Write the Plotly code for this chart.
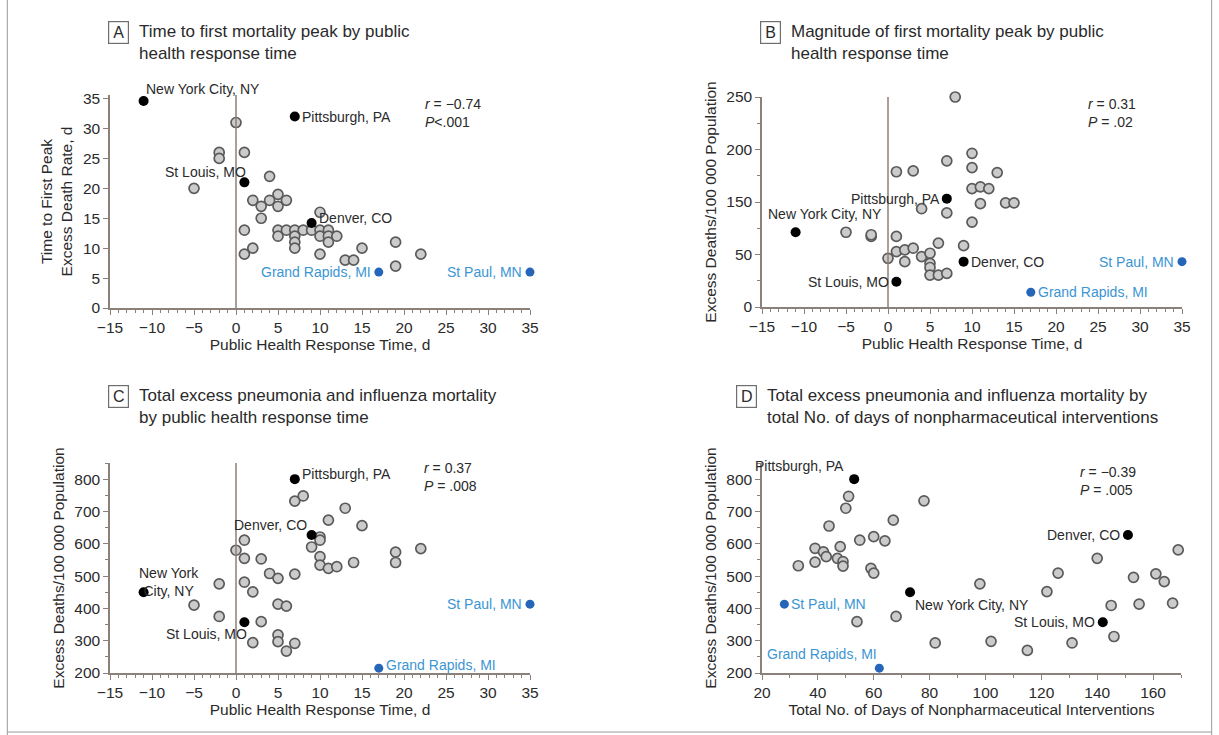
import plotly.graph_objects as go

# --- Data ---
# highlighted cities (same order everywhere)
black_names = ["New York City, NY", "Pittsburgh, PA", "St Louis, MO", "Denver, CO"]
blue_names = ["St Paul, MN", "Grand Rapids, MI"]

black_resp = [-11, 7, 1, 9]
blue_resp = [35, 17]
black_npi = [73, 53, 142, 151]
blue_npi = [28, 62]

black_peak_time = [34.6, 32, 21, 14.2]
blue_peak_time = [6, 6]
black_peak_mag = [89, 129, 30, 54]      # position on the (odd) 0-250 axis
blue_peak_mag = [54, 17.5]
black_total = [450, 800, 357, 627]
blue_total = [413, 215]

# panel A - other cities
a_resp = [0, -2, -2, 1, -5, 4, 2, 3, 4, 5, 5, 6, 3, 1, 5, 6, 5, 1, 2, 7, 8, 9, 10, 10,
          11, 7, 10, 11, 12, 7, 7, 11, 10, 13, 14, 15, 19, 19, 22]
a_peak = [31, 26, 25, 26, 20, 22, 18, 17, 18, 19, 17, 18, 15, 13, 13, 13, 12, 9, 10, 13, 13, 13, 16, 13,
          13, 12, 12, 12, 12, 11, 10, 11, 9, 8, 8, 10, 11, 7, 9]

# panel B - other cities
b_resp = [-5, -2, -2, 1, 1, 3, 4, 7, 7, 0, 1, 2, 3, 2, 4, 5, 6, 5, 5, 5, 6, 7,
          8, 10, 10, 13, 10, 11, 12, 11, 14, 15, 10, 9]
b_mag = [89, 84, 86, 84, 161, 162, 117, 174, 112, 58, 66, 68, 70, 54, 60, 64, 76, 52, 47, 38, 38, 40,
         250, 183, 166, 160, 141, 143, 141, 123, 124, 124, 101, 73]
b_ticktext = ["0", "50", "150", "200", "250"]

# panel C - other cities
c_resp = [-5, -2, -2, 0, 1, 1, 3, 4, 5, 7, 1, 2, 5, 6, 3, 2, 5, 5, 6, 7,
          7, 8, 11, 13, 15, 10, 10, 9, 10, 10, 11, 12, 14, 19, 19, 22]
c_total = [410, 476, 375, 580, 611, 555, 553, 508, 493, 506, 481, 451, 413, 407, 359, 294, 318, 297, 268, 292,
           732, 748, 673, 710, 656, 621, 611, 590, 560, 534, 524, 529, 542, 574, 542, 585]

# panel D - other cities
d_npi = [51, 50, 44, 67, 78, 39, 42, 43, 48, 47, 49, 49, 33, 39, 55, 60, 64, 59, 60, 68, 54, 82,
         169, 140, 126, 153, 161, 164, 98, 122, 145, 155, 167, 102, 115, 131, 146]
d_total = [747, 710, 655, 673, 733, 586, 575, 560, 591, 555, 545, 531, 532, 543, 611, 622, 609, 524, 509, 375, 359, 293,
           581, 555, 509, 496, 507, 483, 476, 452, 409, 413, 416, 298, 270, 293, 313]

stats = ["<i>r</i> = −0.74<br><i>P</i>&lt;.001", "<i>r</i> = 0.31<br><i>P</i> = .02",
         "<i>r</i> = 0.37<br><i>P</i> = .008", "<i>r</i> = −0.39<br><i>P</i> = .005"]
titles = ["Time to first mortality peak by public<br>health response time",
          "Magnitude of first mortality peak by public<br>health response time",
          "Total excess pneumonia and influenza mortality<br>by public health response time",
          "Total excess pneumonia and influenza mortality by<br>total No. of days of nonpharmaceutical interventions"]

# --- Styling ---
W, H = 1219, 735
FONT = "Liberation Sans, Arial, sans-serif"
AXIS = "#8c817a"
TXT = "#2a2a2a"
GRAY_FILL = "#cbcbcb"
GRAY_EDGE = "#5a5a5a"
BLUE = "#2566b8"
BLUE_TXT = "#3b95d3"

def px(x):
    return x / W

def py(y):
    return 1 - y / H

fig = go.Figure()

panels = [
    # xaxis, yaxis, gray x, gray y, black x, black y, blue x, blue y
    ("x", "y", a_resp, a_peak, black_resp, black_peak_time, blue_resp, blue_peak_time),
    ("x2", "y2", b_resp, b_mag, black_resp, black_peak_mag, blue_resp, blue_peak_mag),
    ("x3", "y3", c_resp, c_total, black_resp, black_total, blue_resp, blue_total),
    ("x4", "y4", d_npi, d_total, black_npi, black_total, blue_npi, blue_total),
]

for xa, ya, gx, gy, kx, ky, bx, by in panels:
    fig.add_trace(go.Scatter(x=gx, y=gy, xaxis=xa, yaxis=ya, mode="markers", cliponaxis=False,
                             marker=dict(size=10, color=GRAY_FILL, line=dict(color=GRAY_EDGE, width=1.7)),
                             showlegend=False, hoverinfo="x+y"))
    fig.add_trace(go.Scatter(x=kx, y=ky, xaxis=xa, yaxis=ya, mode="markers", cliponaxis=False,
                             marker=dict(size=10, color="#000000"), text=black_names,
                             showlegend=False, hoverinfo="text"))
    fig.add_trace(go.Scatter(x=bx, y=by, xaxis=xa, yaxis=ya, mode="markers", cliponaxis=False,
                             marker=dict(size=9, color=BLUE), text=blue_names,
                             showlegend=False, hoverinfo="text"))

common_axis = dict(showline=True, linecolor=AXIS, linewidth=1.5, showgrid=False, zeroline=False,
                   automargin=False,
                   ticks="outside", ticklen=5, tickwidth=1.2, tickcolor=AXIS,
                   tickfont=dict(family=FONT, size=15.5, color=TXT),
                   title_font=dict(family=FONT, size=15.5, color=TXT))

resp_axis = dict(common_axis, range=[-15, 35], dtick=5, tick0=0,
                 minor=dict(dtick=1, ticks="outside", ticklen=3, tickcolor=AXIS),
                 title=dict(text="Public Health Response Time, d", standoff=2))

fig.update_layout(
    width=W, height=H, paper_bgcolor="white", plot_bgcolor="white",
    margin=dict(l=0, r=0, t=0, b=0), showlegend=False,
    font=dict(family=FONT, color=TXT),
    xaxis=dict(resp_axis, domain=[px(110), px(530)], anchor="y"),
    yaxis=dict(common_axis, domain=[py(308), py(95)], anchor="x", range=[0, 35.6], dtick=5,
               title=dict(text="Time to First Peak<br>Excess Death Rate, d", standoff=6)),
    xaxis2=dict(resp_axis, domain=[px(762), px(1182)], anchor="y2"),
    yaxis2=dict(common_axis, domain=[py(307), py(97)], anchor="x2", range=[0, 250],
                tickmode="array", tickvals=[0, 62.5, 125, 187.5, 250], ticktext=b_ticktext,
                minor=dict(tickmode="array", tickvals=[31.25, 93.75, 156.25, 218.75],
                           ticks="outside", ticklen=3, tickcolor=AXIS),
                title=dict(text="Excess Deaths/100 000 Population", standoff=6)),
    xaxis3=dict(resp_axis, domain=[px(110), px(530)], anchor="y3"),
    yaxis3=dict(common_axis, domain=[py(673), py(463)], anchor="x3", range=[200, 850], dtick=100,
                minor=dict(dtick=50, ticks="outside", ticklen=3, tickcolor=AXIS),
                title=dict(text="Excess Deaths/100 000 Population", standoff=6)),
    xaxis4=dict(common_axis, domain=[px(762), px(1181)], anchor="y4", range=[20, 170], dtick=20, tick0=20,
                minor=dict(dtick=10, ticks="outside", ticklen=3, tickcolor=AXIS),
                title=dict(text="Total No. of Days of Nonpharmaceutical Interventions", standoff=2)),
    yaxis4=dict(common_axis, domain=[py(673), py(463)], anchor="x4", range=[200, 850], dtick=100,
                minor=dict(dtick=50, ticks="outside", ticklen=3, tickcolor=AXIS),
                title=dict(text="Excess Deaths/100 000 Population", standoff=6)),
)

# vertical reference line at response time 0
for xr, yr, y0, y1 in [("x", "y", 0, 35.6), ("x2", "y2", 0, 250), ("x3", "y3", 200, 850)]:
    fig.add_shape(type="line", xref=xr, yref=yr, x0=0, x1=0, y0=y0, y1=y1,
                  line=dict(color=AXIS, width=1.5))

# outer frame (left, right, bottom)
for x0, y0, x1, y1 in [(0.006, 0, 0.006, 1), (0.994, 0, 0.994, 1), (0.006, 0.004, 0.994, 0.004)]:
    fig.add_shape(type="line", xref="paper", yref="paper", x0=x0, y0=y0, x1=x1, y1=y1,
                  line=dict(color="#9a9a9a", width=1))


def label(xr, yr, x, y, text, xanchor, yanchor="middle", xshift=0, yshift=0, color=TXT):
    fig.add_annotation(xref=xr, yref=yr, x=x, y=y, text=text, showarrow=False,
                       xanchor=xanchor, yanchor=yanchor, xshift=xshift, yshift=yshift,
                       font=dict(family=FONT, size=14, color=color))

# panel A labels
label("x", "y", -11, 34.6, "New York City, NY", "left", "bottom", 0, 2)
label("x", "y", 7, 32, "Pittsburgh, PA", "left", "middle", 5, 0)
label("x", "y", 1, 21, "St Louis, MO", "right", "bottom", 4, 0)
label("x", "y", 9, 14.2, "Denver, CO", "left", "middle", 5, 5)
label("x", "y", 17, 6, "Grand Rapids, MI", "right", "middle", -6, 0, BLUE_TXT)
label("x", "y", 35, 6, "St Paul, MN", "right", "middle", -6, 0, BLUE_TXT)

# panel B labels
label("x2", "y2", -11, 89, "New York City, NY", "left", "bottom", -30, 8)
label("x2", "y2", 7, 129, "Pittsburgh, PA", "right", "middle", -5, 0)
label("x2", "y2", 1, 30, "St Louis, MO", "right", "middle", -5, 0)
label("x2", "y2", 9, 54, "Denver, CO", "left", "middle", 5, 0)
label("x2", "y2", 35, 54, "St Paul, MN", "right", "middle", -6, 0, BLUE_TXT)
label("x2", "y2", 17, 17.5, "Grand Rapids, MI", "left", "middle", 5, 0, BLUE_TXT)

# panel C labels
fig.add_annotation(xref="x3", yref="y3", x=-11, y=450, text="New York<br>City, NY", showarrow=False,
                   xanchor="left", yanchor="bottom", xshift=-7, yshift=-9, align="center",
                   font=dict(family=FONT, size=14, color=TXT))
label("x3", "y3", 1, 357, "St Louis, MO", "right", "top", 5, -2)
label("x3", "y3", 9, 627, "Denver, CO", "right", "bottom", -3, 0)
label("x3", "y3", 7, 800, "Pittsburgh, PA", "left", "middle", 5, 5)
label("x3", "y3", 35, 413, "St Paul, MN", "right", "middle", -6, 0, BLUE_TXT)
label("x3", "y3", 17, 215, "Grand Rapids, MI", "left", "middle", 5, 3, BLUE_TXT)

# panel D labels
label("x4", "y4", 53, 800, "Pittsburgh, PA", "right", "bottom", -8, 3)
label("x4", "y4", 73, 449, "New York City, NY", "left", "top", 3, -2)
label("x4", "y4", 151, 627, "Denver, CO", "right", "middle", -6, 0)
label("x4", "y4", 142, 357, "St Louis, MO", "right", "middle", -6, 0)
label("x4", "y4", 28, 413, "St Paul, MN", "left", "middle", 5, 0, BLUE_TXT)
label("x4", "y4", 62, 215, "Grand Rapids, MI", "right", "bottom", 0, 4, BLUE_TXT)

# r / P statistics
for (sx, sy), s in zip([(423, 94), (1086, 94), (422, 458), (1078, 462)], stats):
    fig.add_annotation(xref="paper", yref="paper", x=px(sx), y=py(sy), text=s, showarrow=False,
                       xanchor="left", yanchor="top", align="left",
                       font=dict(family=FONT, size=14, color=TXT))

# panel letters and titles
for (lx, ly), letter, t in zip([(118, 32), (770, 32), (118, 396), (746, 396)], "ABCD", titles):
    fig.add_annotation(xref="paper", yref="paper", x=px(lx), y=py(ly), text=letter, showarrow=False,
                       xanchor="center", yanchor="middle", bordercolor="#6e6e6e", borderwidth=1.2,
                       borderpad=2, width=15, font=dict(family=FONT, size=16, color=TXT))
    fig.add_annotation(xref="paper", yref="paper", x=px(lx + 19), y=py(ly - 12), text=t,
                       showarrow=False, xanchor="left", yanchor="top", align="left",
                       font=dict(family=FONT, size=17, color=TXT))

# the page's default body margin would shift the whole figure by 8 px
fig.write_html("out.html", config={"displayModeBar": False},
               post_script="document.body.style.margin='0';")
